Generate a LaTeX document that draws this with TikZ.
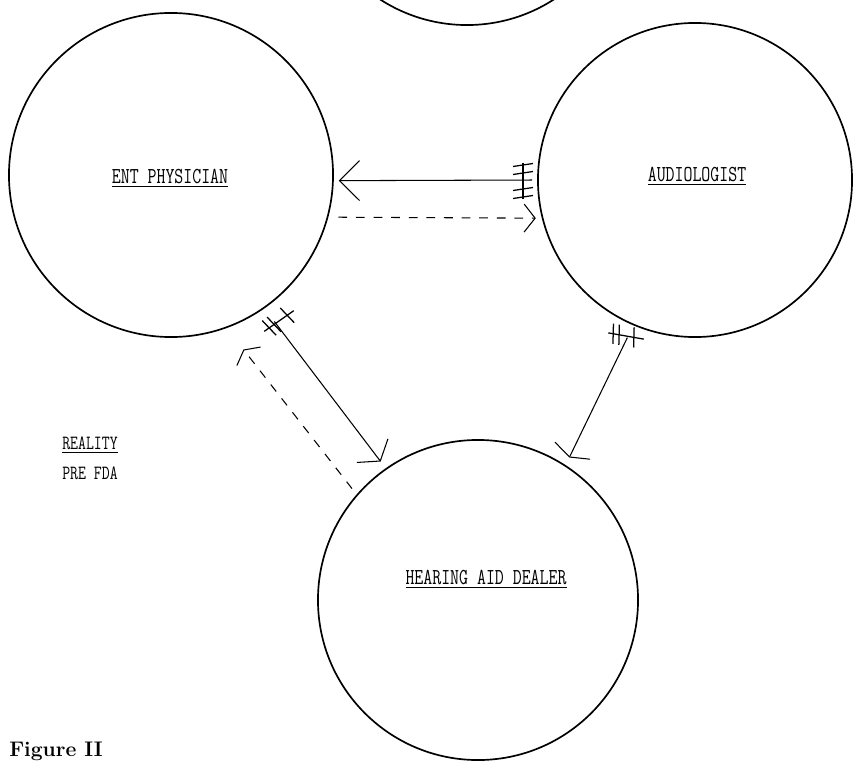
\documentclass[tikz,border=0pt]{standalone}
\usepackage{graphicx}
\usepackage{tikz}
\usetikzlibrary{arrows.meta,positioning}

\newcommand{\tall}[1]{\scalebox{0.95}[1.25]{#1}}

\tikzset{
  party/.style={draw, circle, line width=1.2pt, minimum size=8cm, inner sep=0pt},
  tag/.style={font=\fontsize{13}{15}\selectfont\ttfamily, inner sep=0pt},
  note/.style={font=\fontsize{11.5}{13}\selectfont\ttfamily, inner sep=0pt, anchor=west},
  link/.style={line width=0.75pt},
  hop/.style={dash pattern=on 2.2mm off 2.2mm},
  pics/barrier/.style={code={
    \draw[line width=0.9pt] (-18,0) -- (18,0);
    \foreach \t in {#1} \draw[line width=0.9pt] (\t-1.5,-10) -- (\t+1.5,10);}}
}

\begin{document}
\begin{tikzpicture}[x=0.025cm, y=-0.025cm]
    \useasboundingbox (0,0) rectangle (854,762);
    % the four parties
    \node[party] (fda) at (467,-135) {};
    \node[party, minimum size=8.1cm] (ent) at (171,175) {};
    \node[party, minimum size=7.85cm] (aud) at (695,180) {};
    \node[party] (dealer) at (478,600) {};
    \node[tag] (entname) at (170,178) {\tall{\underline{ENT PHYSICIAN}}};
    \node[tag] (audname) at (697,176) {\tall{\underline{AUDIOLOGIST}}};
    \node[tag] (dealername) at (486,579) {\tall{\underline{HEARING AID DEALER}}};
    % side notes
    \node[note] (reality) at (62,445) {\tall{\underline{REALITY}}};
    \node[note] (prefda) at (62,473) {\tall{PRE FDA}};
    \node[font=\fontsize{15}{17}\selectfont\bfseries, inner sep=0pt, anchor=south west] (caption) at (9,761) {Figure II};
    % referrals
    \draw[link, {Straight Barb[length=5mm,width=10mm]}-, shorten <=1.25mm, shorten >=1.25mm] (ent.-2.5) -- (aud.180.7);
    \draw[link, hop, -{Straight Barb[length=2.75mm,width=7mm]}, shorten <=2.5mm, shorten >=1.5mm] (ent.-15.4) -- (aud.194);
    \draw[link, -{Straight Barb[length=3.25mm,width=9.75mm]}, shorten <=4.1mm, shorten >=2.1mm] (ent.-55.8) -- (dealer.125.6);
    \draw[link, hop, -{Straight Barb[length=2mm,width=7.5mm]}, shorten <=1.85mm, shorten >=6.8mm] (dealer.139.4) -- (ent.-70.4);
    \draw[link, -{Straight Barb[length=1.75mm,width=9.75mm]}, shorten <=3.4mm, shorten >=2.1mm] (aud.247.2) -- (dealer.57.8);
    % blocked ends
    \pic[rotate=90] at (523,181) {barrier={-16,-8,8,16}};
    \pic[rotate=35] at (279,321) {barrier={-12,-6,10}};
    \pic[rotate=-10] at (626,336) {barrier={-13,-7,8}};
\end{tikzpicture}
\end{document}
